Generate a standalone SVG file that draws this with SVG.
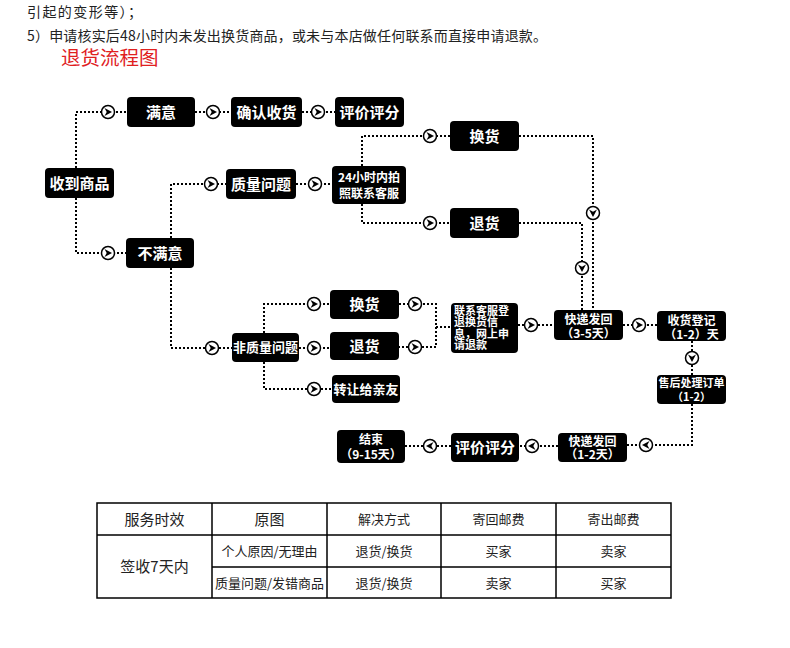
<svg xmlns="http://www.w3.org/2000/svg" xmlns:xlink="http://www.w3.org/1999/xlink" width="790" height="648" viewBox="0 0 790 648">
<defs>
<style>
.t{font-family:"Noto Sans CJK SC","Liberation Sans",sans-serif;fill:#222;}
.n rect{fill:#000;}
.n text{font-family:"Noto Sans CJK SC","Liberation Sans",sans-serif;fill:#fff;font-weight:bold;text-anchor:middle;}
.f15{font-size:15px;}
.f13{font-size:13px;}
.f12{font-size:12px;}
.f11{font-size:11px;}
.c{fill:none;stroke:#000;stroke-width:2;stroke-dasharray:2 2;}
.tb{fill:none;stroke:#000;stroke-width:1.5;}
.tt{font-family:"Noto Sans CJK SC","Liberation Sans",sans-serif;fill:#222;text-anchor:middle;font-size:13px;}
.tl{font-size:15px;}
</style>
<g id="arr">
<circle r="6.5" fill="#fff" stroke="#000" stroke-width="1.5"/>
<path d="M-3.5,-4 L4,0 L-3.5,4 L-1.3,0 Z" fill="#000"/>
</g>
</defs>
<rect width="790" height="648" fill="#fff"/>
<text class="t" x="27" y="17" font-size="14" textLength="115" lengthAdjust="spacing">引起的变形等）；</text>
<text class="t" x="27" y="41" font-size="14" textLength="520" lengthAdjust="spacing">5）申请核实后48小时内未发出换货商品，或未与本店做任何联系而直接申请退款。</text>
<text x="61" y="65" font-size="19.5" fill="#e0201e" font-family="Noto Sans CJK SC, sans-serif">退货流程图</text>

<g id="connectors">
<path class="c" d="M76,168 V112 H127"/>
<path class="c" d="M76,198 V253 H126"/>
<path class="c" d="M195,112 H231"/>
<path class="c" d="M302,112 H335"/>
<path class="c" d="M171,238 V184 H226"/>
<path class="c" d="M296,184 H332"/>
<path class="c" d="M362,166 V136 H450"/>
<path class="c" d="M362,204 V223 H450"/>
<path class="c" d="M519,136 H593 V310"/>
<path class="c" d="M519,223 H582 V310"/>
<path class="c" d="M171,268 V348 H232"/>
<path class="c" d="M264,333 V304 H330"/>
<path class="c" d="M299,348 H330"/>
<path class="c" d="M264,362 V389 H332"/>
<path class="c" d="M399,304 H436 V347 H399"/>
<path class="c" d="M436,327 H451"/>
<path class="c" d="M518,325 H554"/>
<path class="c" d="M623,325 H657"/>
<path class="c" d="M692,341 V375"/>
<path class="c" d="M692,404 V445 H627"/>
<path class="c" d="M558,446 H519"/>
<path class="c" d="M451,446 H405"/>
<use xlink:href="#arr" href="#arr" x="108" y="112"/>
<use xlink:href="#arr" href="#arr" x="108" y="253"/>
<use xlink:href="#arr" href="#arr" x="213" y="112"/>
<use xlink:href="#arr" href="#arr" x="318" y="112"/>
<use xlink:href="#arr" href="#arr" x="211" y="184"/>
<use xlink:href="#arr" href="#arr" x="315" y="184"/>
<use xlink:href="#arr" href="#arr" x="430" y="136"/>
<use xlink:href="#arr" href="#arr" x="430" y="223"/>
<use xlink:href="#arr" href="#arr" transform="translate(593,213) rotate(90)"/>
<use xlink:href="#arr" href="#arr" transform="translate(582,268) rotate(90)"/>
<use xlink:href="#arr" href="#arr" x="212" y="348"/>
<use xlink:href="#arr" href="#arr" x="314" y="304"/>
<use xlink:href="#arr" href="#arr" x="314" y="348"/>
<use xlink:href="#arr" href="#arr" x="314" y="389"/>
<use xlink:href="#arr" href="#arr" x="415" y="304"/>
<use xlink:href="#arr" href="#arr" x="415" y="347"/>
<use xlink:href="#arr" href="#arr" x="531" y="325"/>
<use xlink:href="#arr" href="#arr" x="639" y="325"/>
<use xlink:href="#arr" href="#arr" transform="translate(692,358) rotate(90)"/>
<use xlink:href="#arr" href="#arr" transform="translate(646,445) rotate(180)"/>
<use xlink:href="#arr" href="#arr" transform="translate(532,446) rotate(180)"/>
<use xlink:href="#arr" href="#arr" transform="translate(430,446) rotate(180)"/>
</g>

<g id="n-receive" class="n"><rect x="45" y="168" width="69" height="30" rx="4"/><text class="f15" x="79.5" y="188.5">收到商品</text></g>
<g id="n-satisfied" class="n"><rect x="127" y="97" width="68" height="30" rx="4"/><text class="f15" x="161" y="117.5">满意</text></g>
<g id="n-confirm" class="n"><rect x="231" y="97" width="71" height="30" rx="4"/><text class="f15" x="266.5" y="117.5">确认收货</text></g>
<g id="n-rate1" class="n"><rect x="335" y="97" width="69" height="30" rx="4"/><text class="f15" x="369.5" y="117.5">评价评分</text></g>
<g id="n-unsatisfied" class="n"><rect x="126" y="238" width="68" height="30" rx="4"/><text class="f15" x="160" y="258.5">不满意</text></g>
<g id="n-quality" class="n"><rect x="226" y="169" width="70" height="30" rx="4"/><text class="f15" x="261" y="189.5">质量问题</text></g>
<g id="n-photo" class="n"><rect x="332" y="166" width="74" height="38" rx="4"/><text class="f12"><tspan x="369" y="182">24小时内拍</tspan><tspan x="369" y="198">照联系客服</tspan></text></g>
<g id="n-exchange1" class="n"><rect x="450" y="121" width="69" height="30" rx="4"/><text class="f15" x="484.5" y="141.5">换货</text></g>
<g id="n-return1" class="n"><rect x="450" y="208" width="69" height="30" rx="4"/><text class="f15" x="484.5" y="228.5">退货</text></g>
<g id="n-nonquality" class="n"><rect x="232" y="333" width="67" height="29" rx="4"/><text class="f13" x="265.5" y="352">非质量问题</text></g>
<g id="n-exchange2" class="n"><rect x="330" y="290" width="69" height="29" rx="4"/><text class="f15" x="364.5" y="310">换货</text></g>
<g id="n-return2" class="n"><rect x="330" y="332" width="69" height="28" rx="4"/><text class="f15" x="364.5" y="351.5">退货</text></g>
<g id="n-transfer" class="n"><rect x="332" y="375" width="68" height="28" rx="4"/><text class="f13" x="366" y="393.5">转让给亲友</text></g>
<g id="n-contact" class="n"><rect x="451" y="303" width="67" height="50" rx="4"/><text class="f11" style="text-anchor:start"><tspan x="454" y="314.5">联系客服登</tspan><tspan x="454" y="326">退换货信</tspan><tspan x="454" y="337.5">息，网上申</tspan><tspan x="454" y="349">请退款</tspan></text></g>
<g id="n-ship1" class="n"><rect x="554" y="310" width="69" height="30" rx="4"/><text class="f12"><tspan x="588.5" y="323.5">快递发回</tspan><tspan x="588.5" y="337.5">（3-5天）</tspan></text></g>
<g id="n-register" class="n"><rect x="657" y="311" width="69" height="30" rx="4"/><text class="f12"><tspan x="691.5" y="324.5">收货登记</tspan><tspan x="691.5" y="338.5">（1-2）天</tspan></text></g>
<g id="n-process" class="n"><rect x="657" y="375" width="69" height="29" rx="4"/><text font-size="11"><tspan x="691.5" y="387">售后处理订单</tspan><tspan x="691.5" y="400.5">（1-2）</tspan></text></g>
<g id="n-ship2" class="n"><rect x="558" y="433" width="69" height="29" rx="4"/><text class="f12"><tspan x="592.5" y="446">快递发回</tspan><tspan x="592.5" y="459">（1-2天）</tspan></text></g>
<g id="n-rate2" class="n"><rect x="451" y="433" width="68" height="29" rx="4"/><text class="f15" x="485" y="453">评价评分</text></g>
<g id="n-end" class="n"><rect x="337" y="430" width="68" height="33" rx="4"/><text class="f12"><tspan x="371" y="444">结束</tspan><tspan x="371" y="458.5">（9-15天）</tspan></text></g>

<g id="table">
<rect class="tb" x="97" y="503" width="574" height="95"/>
<path class="tb" d="M97,535 H671 M212,567 H671 M212,503 V598 M327,503 V598 M441,503 V598 M556,503 V598"/>
<text class="tt tl" x="154.5" y="524.5">服务时效</text>
<text class="tt tl" x="269.5" y="524.5">原图</text>
<text class="tt" x="384" y="524">解决方式</text>
<text class="tt" x="498.5" y="524">寄回邮费</text>
<text class="tt" x="613.5" y="524">寄出邮费</text>
<text class="tt tl" x="154.5" y="572">签收7天内</text>
<text class="tt" x="269.5" y="556">个人原因/无理由</text>
<text class="tt" x="384" y="556">退货/换货</text>
<text class="tt" x="498.5" y="556">买家</text>
<text class="tt" x="613.5" y="556">卖家</text>
<text class="tt" x="269.5" y="588">质量问题/发错商品</text>
<text class="tt" x="384" y="588">退货/换货</text>
<text class="tt" x="498.5" y="588">卖家</text>
<text class="tt" x="613.5" y="588">买家</text>
</g>
</svg>
